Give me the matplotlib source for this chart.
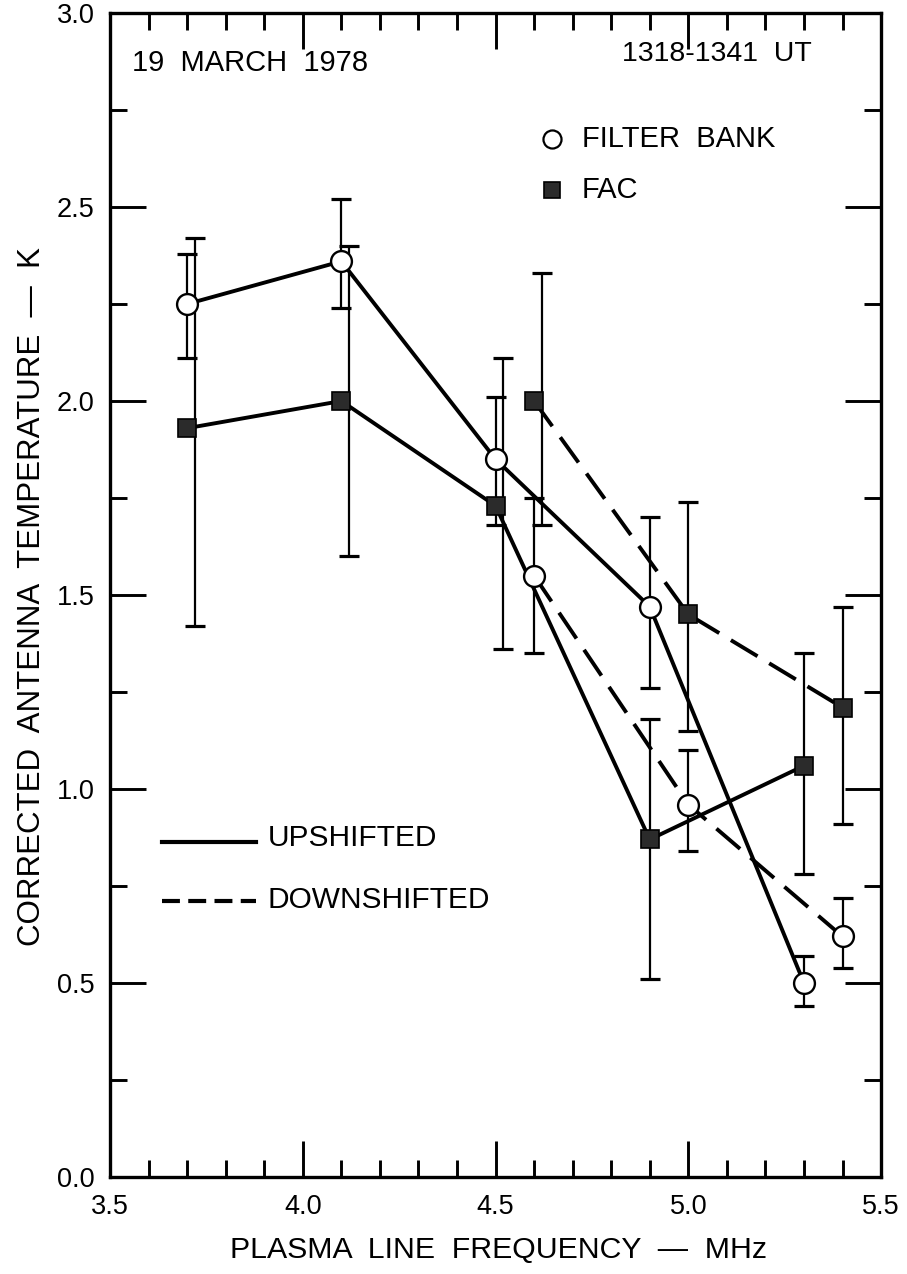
import matplotlib
matplotlib.use("Agg")
import matplotlib.pyplot as plt
from matplotlib.ticker import MultipleLocator

plt.rcParams['font.family'] = ['Liberation Sans', 'DejaVu Sans']

# ---- data ----
fb_up_x = [3.7, 4.1, 4.5, 4.9, 5.3]
fb_up_y = [2.25, 2.36, 1.85, 1.47, 0.50]
fb_up_lo = [2.11, 2.24, 1.68, 1.26, 0.44]
fb_up_hi = [2.38, 2.52, 2.01, 1.70, 0.57]

fb_dn_x = [4.6, 5.0, 5.4]
fb_dn_y = [1.55, 0.96, 0.62]
fb_dn_lo = [1.35, 0.84, 0.54]
fb_dn_hi = [1.75, 1.10, 0.72]

fac_up_x = [3.7, 4.1, 4.5, 4.9, 5.3]
fac_up_errx = [3.72, 4.12, 4.52, 4.9, 5.3]
fac_up_y = [1.93, 2.00, 1.73, 0.87, 1.06]
fac_up_lo = [1.42, 1.60, 1.36, 0.51, 0.78]
fac_up_hi = [2.42, 2.40, 2.11, 1.18, 1.35]

fac_dn_x = [4.6, 5.0, 5.4]
fac_dn_errx = [4.62, 5.0, 5.4]
fac_dn_y = [2.00, 1.45, 1.21]
fac_dn_lo = [1.68, 1.15, 0.91]
fac_dn_hi = [2.33, 1.74, 1.47]

x_ticks = [3.5, 4.0, 4.5, 5.0, 5.5]
y_ticks = [0.0, 0.5, 1.0, 1.5, 2.0, 2.5, 3.0]

title_left = "19  MARCH  1978"
title_right = "1318-1341  UT"
xlabel = "PLASMA  LINE  FREQUENCY  —  MHz"
ylabel = "CORRECTED  ANTENNA  TEMPERATURE  —  K"

# ---- figure ----
fig = plt.figure(figsize=(9.07, 12.74), dpi=100)
ax = fig.add_axes([0.1213, 0.0761, 0.8501, 0.9137])

ax.set_xlim(3.5, 5.5)
ax.set_ylim(0.0, 3.0)

def errs(y, lo, hi):
    return [[v - l for v, l in zip(y, lo)], [h - v for v, h in zip(y, hi)]]

ekw = dict(fmt='none', ecolor='black', elinewidth=1.6, capsize=7.5, capthick=2.3, zorder=2)
ax.errorbar(fb_up_x, fb_up_y, yerr=errs(fb_up_y, fb_up_lo, fb_up_hi), **ekw)
ax.errorbar(fb_dn_x, fb_dn_y, yerr=errs(fb_dn_y, fb_dn_lo, fb_dn_hi), **ekw)
ax.errorbar(fac_up_errx, fac_up_y, yerr=errs(fac_up_y, fac_up_lo, fac_up_hi), **ekw)
ax.errorbar(fac_dn_errx, fac_dn_y, yerr=errs(fac_dn_y, fac_dn_lo, fac_dn_hi), **ekw)

lw = 2.8
dash = (8, 3.5)
ax.plot(fb_up_x, fb_up_y, color='black', lw=lw, zorder=3)
ax.plot(fac_up_x, fac_up_y, color='black', lw=lw, zorder=3)
ax.plot(fb_dn_x, fb_dn_y, color='black', lw=lw, ls=(0, dash), zorder=3)
ax.plot(fac_dn_x, fac_dn_y, color='black', lw=lw, ls=(0, dash), zorder=3)

circ = dict(ls='none', marker='o', ms=15, mfc='white', mec='black', mew=1.7, zorder=4)
sq = dict(ls='none', marker='s', ms=12.5, mfc='#2b2b2b', mec='black', mew=1.2, zorder=4)
ax.plot(fb_up_x, fb_up_y, **circ)
ax.plot(fb_dn_x, fb_dn_y, **circ)
ax.plot(fac_up_x, fac_up_y, **sq)
ax.plot(fac_dn_x, fac_dn_y, **sq)

# ---- axes styling ----
for s in ax.spines.values():
    s.set_linewidth(2.4)
ax.xaxis.set_major_locator(MultipleLocator(0.5))
ax.xaxis.set_minor_locator(MultipleLocator(0.1))
ax.yaxis.set_major_locator(MultipleLocator(0.5))
ax.yaxis.set_minor_locator(MultipleLocator(0.25))
ax.set_xticks(x_ticks)
ax.set_yticks(y_ticks)
ax.set_xticklabels([f"{v:.1f}" for v in x_ticks])
ax.set_yticklabels([f"{v:.1f}" for v in y_ticks])
ax.tick_params(which='both', direction='in', top=True, right=True, width=2.1, color='black')
ax.tick_params(which='major', length=26)
ax.tick_params(which='minor', length=12)
ax.tick_params(axis='y', which='major', labelsize=19.5, pad=11)
ax.tick_params(axis='x', which='major', labelsize=19.5, pad=12)

fig.text(499 / 907, 1 - 1250 / 1274, xlabel, ha='center', va='center', fontsize=21.8)
fig.text(32 / 907, 1 - 597 / 1274, ylabel, ha='center', va='center', fontsize=22.5, rotation=90)

# ---- annotations ----
ax.text(0.029, 0.957, title_left, transform=ax.transAxes, ha='left', va='center', fontsize=21)
ax.text(0.9105, 0.965, title_right, transform=ax.transAxes, ha='right', va='center', fontsize=20.5)

ax.plot([0.573], [0.892], transform=ax.transAxes, marker='o', ms=13, mfc='white',
        mec='black', mew=1.6, ls='none', clip_on=False)
ax.text(0.612, 0.892, "FILTER  BANK", transform=ax.transAxes, ha='left', va='center', fontsize=21)
ax.plot([0.573], [0.848], transform=ax.transAxes, marker='s', ms=12, mfc='#2b2b2b',
        mec='black', mew=1.2, ls='none', clip_on=False)
ax.text(0.612, 0.848, "FAC", transform=ax.transAxes, ha='left', va='center', fontsize=21)

ax.plot([0.0674, 0.189], [0.288, 0.288], transform=ax.transAxes, color='black', lw=3.0)
ax.text(0.204, 0.291, "UPSHIFTED", transform=ax.transAxes, ha='left', va='center', fontsize=21.5)
ax.plot([0.0674, 0.189], [0.237, 0.237], transform=ax.transAxes, color='black', lw=3.0,
        ls=(0, (4.3, 2.0)))
ax.text(0.204, 0.238, "DOWNSHIFTED", transform=ax.transAxes, ha='left', va='center', fontsize=21.5)

fig.savefig("out.png", dpi=100)
